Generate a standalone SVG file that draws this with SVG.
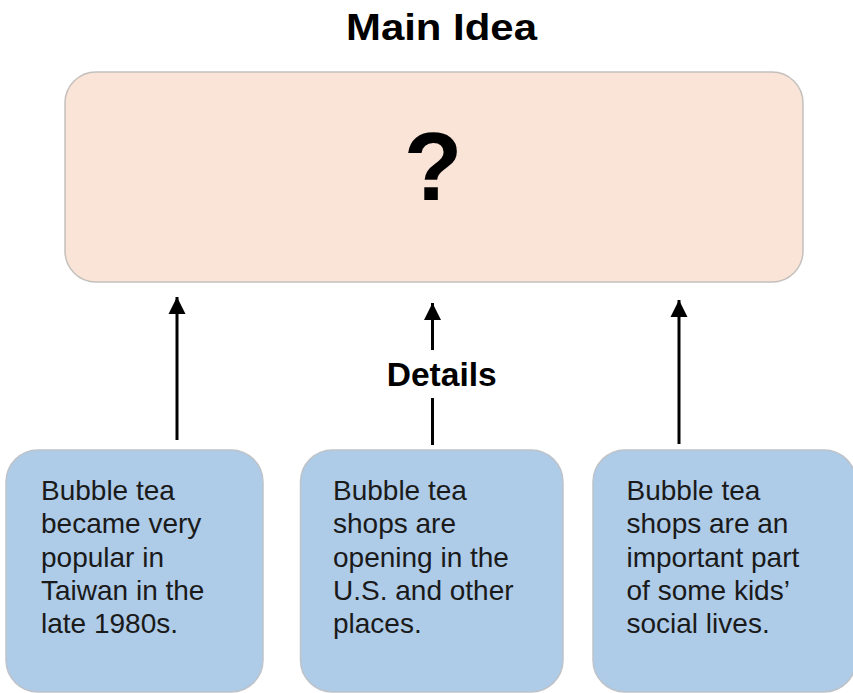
<svg xmlns="http://www.w3.org/2000/svg" width="853" height="693" viewBox="0 0 853 693">
<defs>
<marker id="ah" markerUnits="userSpaceOnUse" markerWidth="18" markerHeight="18" viewBox="0 0 18 18" refX="17" refY="9" orient="auto">
<path d="M0,0.5 L17,9 L0,17.5 Z" fill="#000"/>
</marker>
</defs>
<style>
.title{font-family:"Liberation Sans",Arial,sans-serif;font-weight:bold;fill:#000}
.main{fill:#FAE4D7;stroke:#C4C0BD;stroke-width:1.5}
.detail{fill:#AECBE8;stroke:#BDC3C9;stroke-width:1.5}
.body{font-family:"Liberation Sans",Arial,sans-serif;font-size:28px;fill:#1a1a1a}
.conn{stroke:#000;stroke-width:3;fill:none}
</style>
<rect width="853" height="693" fill="#fff"/>
<g id="title">
<text class="title" x="441.5" y="40" font-size="37" text-anchor="middle" textLength="191" lengthAdjust="spacingAndGlyphs">Main Idea</text>
</g>
<g id="main-idea">
<rect class="main" x="65" y="72" width="738" height="210" rx="31" ry="31"/>
<text class="title" x="433" y="200" font-size="96" text-anchor="middle">?</text>
</g>
<g id="connectors">
<line class="conn" x1="177" y1="440" x2="177" y2="297" marker-end="url(#ah)"/>
<line class="conn" x1="432.5" y1="350" x2="432.5" y2="303" marker-end="url(#ah)"/>
<line class="conn" x1="432.5" y1="398" x2="432.5" y2="445"/>
<line class="conn" x1="679" y1="444" x2="679" y2="300" marker-end="url(#ah)"/>
</g>
<g id="details-label">
<text class="title" x="441.7" y="386" font-size="33" text-anchor="middle" textLength="110" lengthAdjust="spacingAndGlyphs">Details</text>
</g>
<g id="detail-1">
<rect class="detail" x="6" y="450" width="257" height="242" rx="32" ry="32"/>
<text class="body" x="41" y="500">
<tspan x="41" y="500">Bubble tea</tspan>
<tspan x="41" y="533">became very</tspan>
<tspan x="41" y="566.5">popular in</tspan>
<tspan x="41" y="600">Taiwan in the</tspan>
<tspan x="41" y="633">late 1980s.</tspan>
</text>
</g>
<g id="detail-2">
<rect class="detail" x="300.5" y="450" width="262.5" height="242" rx="32" ry="32"/>
<text class="body" x="333" y="500">
<tspan x="333" y="500">Bubble tea</tspan>
<tspan x="333" y="533">shops are</tspan>
<tspan x="333" y="566.5">opening in the</tspan>
<tspan x="333" y="600">U.S. and other</tspan>
<tspan x="333" y="633">places.</tspan>
</text>
</g>
<g id="detail-3">
<rect class="detail" x="593" y="450" width="263" height="242" rx="32" ry="32"/>
<text class="body" x="626.5" y="500">
<tspan x="626.5" y="500">Bubble tea</tspan>
<tspan x="626.5" y="533">shops are an</tspan>
<tspan x="626.5" y="566.5">important part</tspan>
<tspan x="626.5" y="600">of some kids’</tspan>
<tspan x="626.5" y="633">social lives.</tspan>
</text>
</g>
</svg>
